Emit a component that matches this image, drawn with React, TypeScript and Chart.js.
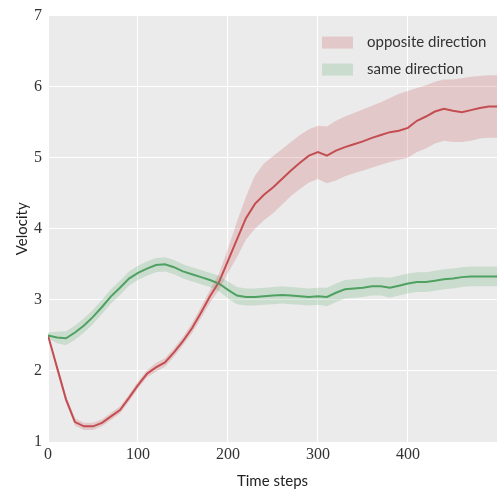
import React, { useEffect, useRef } from "react";
import { Chart, registerables } from "chart.js";

Chart.register(...registerables);

const steps = [0, 10, 20, 30, 40, 50, 60, 70, 80, 90, 100, 110, 120, 130, 140, 150, 160, 170, 180, 190, 200, 210, 220, 230, 240, 250, 260, 270, 280, 290, 300, 310, 320, 330, 340, 350, 360, 370, 380, 390, 400, 410, 420, 430, 440, 450, 460, 470, 480, 490, 499];

const oppositeMean = [2.5, 2.05, 1.6, 1.28, 1.22, 1.22, 1.27, 1.36, 1.45, 1.62, 1.8, 1.96, 2.05, 2.12, 2.26, 2.42, 2.6, 2.82, 3.05, 3.25, 3.55, 3.85, 4.15, 4.35, 4.48, 4.58, 4.7, 4.82, 4.93, 5.03, 5.08, 5.03, 5.1, 5.15, 5.19, 5.23, 5.28, 5.32, 5.36, 5.38, 5.42, 5.52, 5.58, 5.65, 5.69, 5.66, 5.64, 5.67, 5.7, 5.72, 5.72];
const oppositeUpper = [2.53, 2.09, 1.65, 1.33, 1.27, 1.27, 1.32, 1.41, 1.5, 1.67, 1.85, 2.01, 2.11, 2.18, 2.32, 2.48, 2.67, 2.9, 3.14, 3.37, 3.72, 4.1, 4.45, 4.75, 4.92, 5.02, 5.12, 5.22, 5.32, 5.4, 5.45, 5.44, 5.52, 5.58, 5.63, 5.68, 5.73, 5.78, 5.84, 5.9, 5.94, 5.98, 6.02, 6.07, 6.1, 6.1, 6.12, 6.14, 6.15, 6.16, 6.16];
const oppositeLower = [2.47, 2.01, 1.55, 1.23, 1.17, 1.17, 1.22, 1.31, 1.4, 1.57, 1.75, 1.91, 1.99, 2.06, 2.2, 2.36, 2.53, 2.74, 2.96, 3.14, 3.38, 3.6, 3.85, 4.0, 4.12, 4.22, 4.34, 4.46, 4.56, 4.65, 4.7, 4.64, 4.68, 4.74, 4.78, 4.82, 4.86, 4.9, 4.94, 4.97, 5.0, 5.08, 5.13, 5.2, 5.24, 5.22, 5.22, 5.24, 5.27, 5.28, 5.28];

const sameMean = [2.5, 2.47, 2.46, 2.54, 2.64, 2.76, 2.9, 3.05, 3.17, 3.3, 3.38, 3.44, 3.49, 3.5, 3.46, 3.4, 3.36, 3.32, 3.28, 3.23, 3.14, 3.06, 3.04, 3.04, 3.05, 3.06, 3.07, 3.06, 3.05, 3.04, 3.05, 3.04, 3.1, 3.15, 3.16, 3.17, 3.19, 3.19, 3.17, 3.2, 3.23, 3.25, 3.25, 3.27, 3.29, 3.3, 3.32, 3.33, 3.33, 3.33, 3.33];
const sameUpper = [2.54, 2.55, 2.56, 2.64, 2.74, 2.86, 3.0, 3.15, 3.27, 3.4, 3.48, 3.54, 3.59, 3.6, 3.56, 3.5, 3.46, 3.42, 3.38, 3.34, 3.26, 3.18, 3.16, 3.16, 3.17, 3.18, 3.19, 3.18, 3.17, 3.16, 3.17, 3.17, 3.23, 3.28, 3.29, 3.3, 3.32, 3.32, 3.31, 3.34, 3.37, 3.39, 3.39, 3.41, 3.43, 3.44, 3.46, 3.47, 3.47, 3.47, 3.47];
const sameLower = [2.46, 2.39, 2.36, 2.44, 2.54, 2.66, 2.8, 2.95, 3.07, 3.2, 3.28, 3.34, 3.39, 3.4, 3.36, 3.3, 3.26, 3.22, 3.18, 3.12, 3.02, 2.94, 2.92, 2.92, 2.93, 2.94, 2.95, 2.94, 2.93, 2.92, 2.93, 2.91, 2.97, 3.02, 3.03, 3.04, 3.06, 3.06, 3.03, 3.06, 3.09, 3.11, 3.11, 3.13, 3.15, 3.16, 3.18, 3.19, 3.19, 3.19, 3.19];

const xTickValues = [0, 100, 200, 300, 400];
const yTickValues = [1, 2, 3, 4, 5, 6, 7];

const seriesNames = ["opposite direction", "same direction"];
const xTitle = "Time steps";
const yTitle = "Velocity";

const RED = "#C44E52";
const GREEN = "#4E9F60";
const RED_BAND = "rgba(196,78,82,0.22)";
const GREEN_BAND = "rgba(85,168,104,0.22)";
const SERIF = "'Liberation Serif', 'DejaVu Serif', serif";

const pts = (ys: number[]) => steps.map((x, i) => ({ x, y: ys[i] }));

const bgPlugin = {
  id: "plotBg",
  beforeDraw(chart: any) {
    const { ctx, chartArea } = chart;
    ctx.save();
    ctx.fillStyle = "#EBEBEB";
    ctx.fillRect(chartArea.left, chartArea.top, chartArea.right - chartArea.left, chartArea.bottom - chartArea.top);
    ctx.restore();
  },
};

const legendPlugin = {
  id: "innerLegend",
  afterDraw(chart: any) {
    const { ctx, chartArea } = chart;
    const colors = [RED_BAND, GREEN_BAND];
    ctx.save();
    const x0 = chartArea.right - 175;
    seriesNames.forEach((name, i) => {
      const y = chartArea.top + 21 + i * 27;
      ctx.fillStyle = colors[i];
      ctx.fillRect(x0, y, 31, 12);
      ctx.fillStyle = "#333333";
      ctx.font = "15px Lato";
      ctx.textBaseline = "middle";
      ctx.textAlign = "left";
      ctx.fillText(name, x0 + 45, y + 6);
    });
    ctx.restore();
  },
};

export default function App() {
  const ref = useRef<HTMLCanvasElement | null>(null);
  useEffect(() => {
    document.body.style.margin = "0";
    const canvas = ref.current!;
    const chart = new Chart(canvas, {
      type: "line",
      data: {
        datasets: [
          { data: pts(oppositeLower), borderWidth: 0, pointRadius: 0, fill: false, borderColor: "transparent" },
          { data: pts(oppositeUpper), borderWidth: 0, pointRadius: 0, fill: "-1", backgroundColor: RED_BAND, borderColor: "transparent" },
          { data: pts(sameLower), borderWidth: 0, pointRadius: 0, fill: false, borderColor: "transparent" },
          { data: pts(sameUpper), borderWidth: 0, pointRadius: 0, fill: "-1", backgroundColor: GREEN_BAND, borderColor: "transparent" },
          { label: seriesNames[1], data: pts(sameMean), borderWidth: 2, pointRadius: 0, fill: false, borderColor: GREEN },
          { label: seriesNames[0], data: pts(oppositeMean), borderWidth: 2, pointRadius: 0, fill: false, borderColor: RED },
        ],
      },
      options: {
        animation: false,
        responsive: false,
        layout: { padding: { top: 15, right: 2, left: 0, bottom: 0 } },
        plugins: { legend: { display: false }, tooltip: { enabled: false } },
        scales: {
          x: {
            type: "linear",
            min: 0,
            max: 499,
            afterBuildTicks: (s: any) => { s.ticks = xTickValues.map((v) => ({ value: v })); },
            afterFit: (s: any) => { s.height = 52; },
            grid: { color: "#FFFFFF", lineWidth: 1, drawTicks: false },
            border: { display: false },
            ticks: { padding: 3, color: "#333333", maxRotation: 0, font: { family: SERIF, size: 16 } },
            title: { display: true, text: xTitle, color: "#222222", padding: 4, font: { family: "Lato", size: 15 } },
          },
          y: {
            type: "linear",
            min: 1,
            max: 7,
            afterBuildTicks: (s: any) => { s.ticks = yTickValues.map((v) => ({ value: v })); },
            afterFit: (s: any) => { s.width = 48; },
            grid: { color: "#FFFFFF", lineWidth: 1, drawTicks: false },
            border: { display: false },
            ticks: { padding: 6, color: "#333333", font: { family: SERIF, size: 16 } },
            title: { display: true, text: yTitle, color: "#222222", padding: 13, font: { family: "Lato", size: 15 } },
          },
        },
      },
      plugins: [bgPlugin, legendPlugin],
    });
    return () => chart.destroy();
  }, []);
  return (
    <div style={{ width: 499, height: 494 }}>
      <canvas ref={ref} width={499} height={494} style={{ display: "block" }} />
    </div>
  );
}
